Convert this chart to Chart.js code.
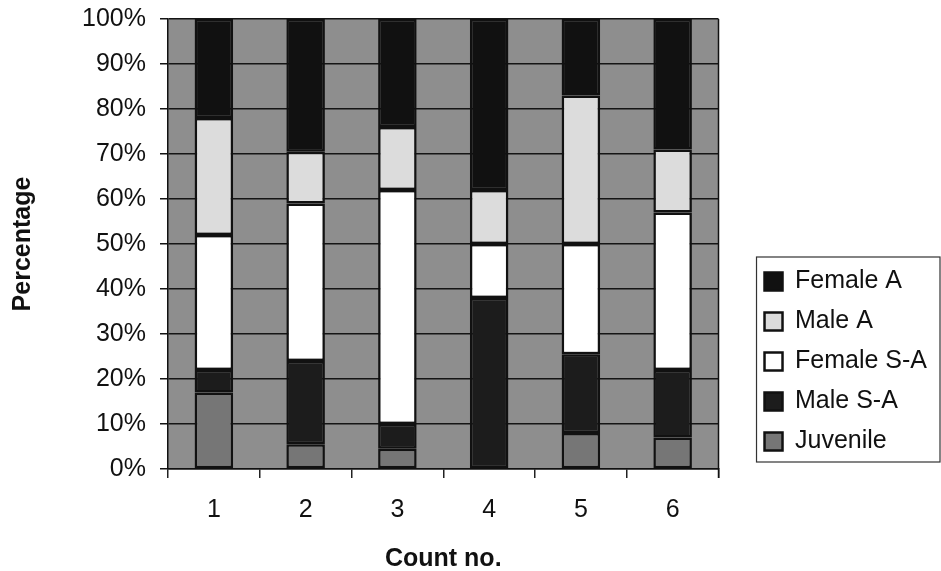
<!DOCTYPE html>
<html>
<head>
<meta charset="utf-8">
<script src="https://cdn.jsdelivr.net/npm/chart.js@4.4.1/dist/chart.umd.min.js"></script>
<style>
    html, body { margin: 0; padding: 0; background: #fff; }
    #wrap { width: 941px; height: 571px; }
</style>
</head>
<body>
<div id="wrap"><canvas id="chart"></canvas></div>
<script>
// Count numbers on the x axis
const counts = ['1', '2', '3', '4', '5', '6'];

// percentage of each group per count (bottom to top)
const juvenile  = [17, 5.5, 4.5, 0, 8, 7];
const maleSA    = [5, 18.5, 5.5, 38, 17.5, 15];
const femaleSA  = [30, 35, 52, 12, 24.5, 35];
const maleA     = [26, 11.5, 14, 12, 33, 14];
const femaleA   = [22, 29.5, 24, 38, 17, 29];

const yTicks = [0, 10, 20, 30, 40, 50, 60, 70, 80, 90, 100];

const FONT = 'Arial, "Liberation Sans", sans-serif';

// grey plot area + right border, legend frame
const plotBg = {
    id: 'plotBg',
    beforeDraw(chart) {
        const { ctx, chartArea: a } = chart;
        ctx.save();
        ctx.fillStyle = '#8e8e8e';
        ctx.fillRect(a.left, a.top, a.right - a.left, a.bottom - a.top);
        ctx.restore();
    },
    afterDraw(chart) {
        const { ctx, chartArea: a } = chart;
        ctx.save();
        ctx.strokeStyle = '#111';
        ctx.lineWidth = 1.5;
        ctx.beginPath();
        ctx.moveTo(a.right, a.top);
        ctx.lineTo(a.right, a.bottom + 9);
        ctx.stroke();

        // box round the legend items
        const boxes = chart.legend.legendHitBoxes;
        if (boxes && boxes.length) {
            const first = boxes[0], last = boxes[boxes.length - 1];
            const l = first.left - 8, t = first.top - 12;
            ctx.lineWidth = 1.2;
            ctx.strokeStyle = '#333';
            ctx.strokeRect(l, t, 940 - l, last.top + last.height + 8 - t);
        }
        ctx.restore();
    }
};

const ctx = document.getElementById('chart').getContext('2d');
new Chart(ctx, {
    type: 'bar',
    data: {
        labels: counts,
        datasets: [
            { label: 'Juvenile',   data: juvenile, backgroundColor: '#767676', borderColor: '#111', borderWidth: 2.5 },
            { label: 'Male S-A',   data: maleSA,   backgroundColor: '#1c1c1c', borderColor: '#111', borderWidth: 2.5 },
            { label: 'Female S-A', data: femaleSA, backgroundColor: '#ffffff', borderColor: '#111', borderWidth: 2.5 },
            { label: 'Male A',     data: maleA,    backgroundColor: '#dcdcdc', borderColor: '#111', borderWidth: 2.5 },
            { label: 'Female A',   data: femaleA,  backgroundColor: '#111111', borderColor: '#111', borderWidth: 2.5 }
        ]
    },
    options: {
        responsive: true,
        maintainAspectRatio: false,
        animation: false,
        layout: { padding: { top: 19, left: 0, right: 4, bottom: 0 } },
        datasets: {
            bar: { categoryPercentage: 1, barPercentage: 0.42, borderSkipped: false }
        },
        plugins: {
            tooltip: { enabled: false },
            legend: {
                position: 'right',
                align: 'end',
                fullSize: false,
                reverse: true,
                maxWidth: 260,
                labels: {
                    color: '#111',
                    font: { family: FONT, size: 25 },
                    boxWidth: 18,
                    boxHeight: 18,
                    padding: 15
                }
            }
        },
        scales: {
            x: {
                stacked: true,
                grid: { drawOnChartArea: false, color: '#222', lineWidth: 1.5, tickLength: 9 },
                border: { color: '#111', width: 1.5 },
                ticks: { color: '#111', font: { family: FONT, size: 25 }, padding: 17 },
                title: {
                    display: true,
                    text: 'Count no.',
                    color: '#111',
                    font: { family: FONT, size: 25, weight: 'bold' },
                    padding: { top: 0, bottom: -3 }
                },
                afterFit(scale) { scale.height = 102; }
            },
            y: {
                stacked: true,
                min: 0,
                max: 100,
                afterBuildTicks(scale) { scale.ticks = yTicks.map(v => ({ value: v })); },
                grid: { color: '#151515', lineWidth: 1.5, tickLength: 8 },
                border: { color: '#111', width: 1.5 },
                ticks: {
                    color: '#111',
                    font: { family: FONT, size: 25 },
                    padding: 14,
                    callback: v => v + '%'
                },
                title: {
                    display: true,
                    text: 'Percentage',
                    color: '#111',
                    font: { family: FONT, size: 25, weight: 'bold' },
                    padding: { top: 8, bottom: 0 }
                },
                afterFit(scale) {
                    scale.width = 168;
                    scale.paddingTop = 0;
                    scale.paddingBottom = 0;
                }
            },
            // empty spacer between the plot and the legend
            gap: {
                type: 'linear',
                position: 'right',
                display: true,
                grid: { display: false },
                border: { display: false },
                ticks: { display: false },
                afterFit(scale) { scale.width = 31; }
            }
        }
    },
    plugins: [plotBg]
});
</script>
</body>
</html>
